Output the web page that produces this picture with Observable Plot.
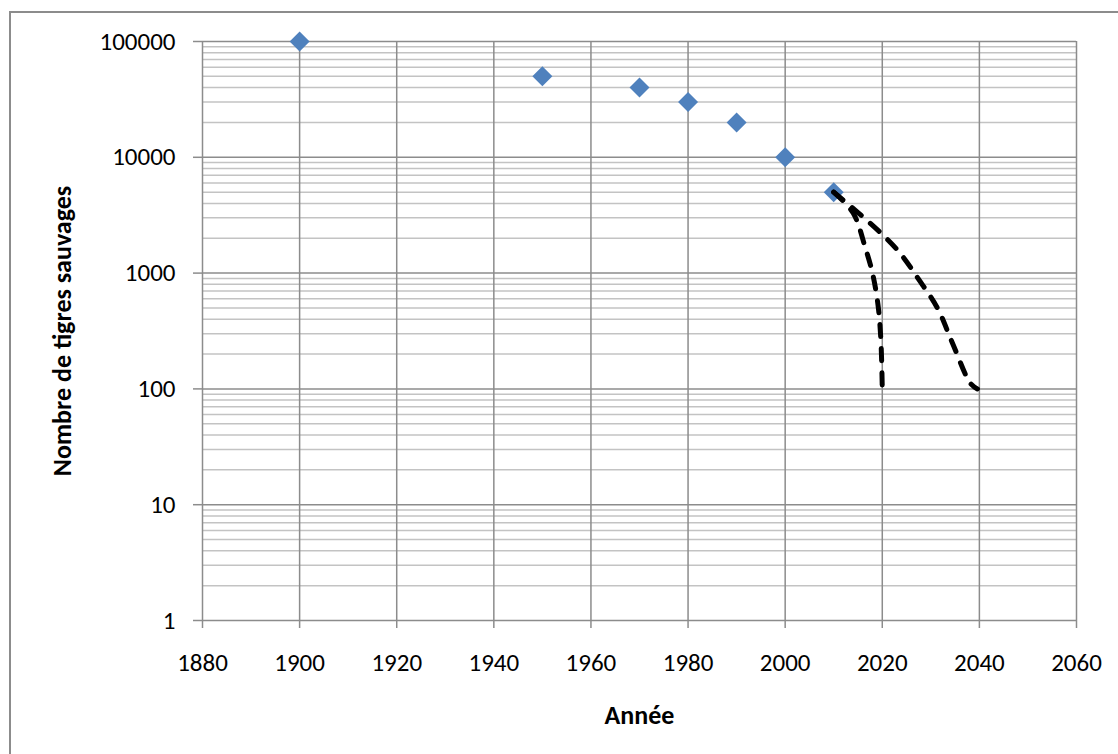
<!DOCTYPE html>
<html><head><meta charset="utf-8">
<script src="https://cdn.jsdelivr.net/npm/d3@7"></script>
<script src="https://cdn.jsdelivr.net/npm/@observablehq/plot@0.6"></script>
<style>
html,body{margin:0;padding:0;background:#fff;overflow:hidden;width:1118px;height:754px}
#frame{position:absolute;left:9px;top:11px;width:1200px;height:800px;border-left:2px solid #8c8c8c;border-top:2px solid #8c8c8c;box-sizing:border-box}
#chart{position:absolute;left:0;top:0}
</style></head><body>
<div id="frame"></div><div id="chart"></div>
<script>
// Observed data (wild tiger counts)
const years = [1900, 1950, 1970, 1980, 1990, 2000, 2010];
const tigers = [100000, 50000, 40000, 30000, 20000, 10000, 5000];

// Projection curves (dashed)
const fastYears = [2010, 2014, 2016.5, 2018, 2019.1, 2019.7, 2020];
const fastValues = [5000, 3300, 1660, 990, 540, 270, 100];
const slowYears = [2010, 2015, 2019.6, 2023.7, 2027.4, 2031.4, 2034.4, 2038.2, 2039.6];
const slowValues = [5000, 3330, 2240, 1480, 895, 495, 252, 111, 100];

// Tick labels
const xTicks = [1880, 1900, 1920, 1940, 1960, 1980, 2000, 2020, 2040, 2060];
const yTicks = [1, 10, 100, 1000, 10000, 100000];
const minorSteps = [2, 3, 4, 5, 6, 7, 8, 9];
const minorTicks = yTicks.slice(0, -1).flatMap(d => minorSteps.map(k => k * d));

const points = years.map((y, i) => ({year: y, n: tigers[i]}));
const fast = fastYears.map((y, i) => ({year: y, n: fastValues[i]}));
const slow = slowYears.map((y, i) => ({year: y, n: slowValues[i]}));

const font = "Carlito, Calibri, Lato, sans-serif";
const chart = Plot.plot({
  width: 1118,
  height: 754,
  marginLeft: 202,
  marginRight: 42,
  marginTop: 41,
  marginBottom: 134,
  style: {fontFamily: font, fontSize: "25px", background: "transparent", overflow: "visible", color: "#000"},
  x: {domain: [1880, 2060]},
  y: {type: "log", domain: [1, 100000]},
  marks: [
    Plot.ruleY(minorTicks, {stroke: "#c3c3c3", strokeWidth: 1.5}),
    Plot.ruleY(yTicks, {stroke: "#8c8c8c", strokeWidth: 1.5}),
    Plot.ruleX(xTicks, {stroke: "#8c8c8c", strokeWidth: 1.5}),
    Plot.axisY({ticks: yTicks, tickFormat: d3.format("d"), tickSize: 9, tickPadding: 18, stroke: "#8c8c8c", strokeWidth: 1.5, label: null, fontSize: 25}),
    Plot.axisX({ticks: xTicks, tickFormat: d => String(d), tickSize: 8, tickPadding: 25, stroke: "#8c8c8c", strokeWidth: 1.5, label: null, fontSize: 25}),
    Plot.dot(points, {x: "year", y: "n", symbol: "diamond2", r: 9, fill: "#4f81bd", stroke: "none"}),
    Plot.line(fast, {x: "year", y: "n", curve: "catmull-rom", stroke: "#000", strokeWidth: 5, strokeDasharray: "12,12", strokeLinecap: "round"}),
    Plot.line(slow, {x: "year", y: "n", curve: "catmull-rom", stroke: "#000", strokeWidth: 5, strokeDasharray: "12,12", strokeLinecap: "round"}),
    Plot.text(["Année"], {frameAnchor: "bottom", dy: 95, text: d => d, textAnchor: "middle", lineAnchor: "middle", fontWeight: "bold", fontSize: 26, fill: "#000"}),
    Plot.text(["Nombre de tigres sauvages"], {frameAnchor: "left", dx: -140, rotate: -90, text: d => d, textAnchor: "middle", lineAnchor: "middle", fontWeight: "bold", fontSize: 26, fill: "#000"})
  ]
});
document.getElementById("chart").appendChild(chart);
</script>
</body></html>
